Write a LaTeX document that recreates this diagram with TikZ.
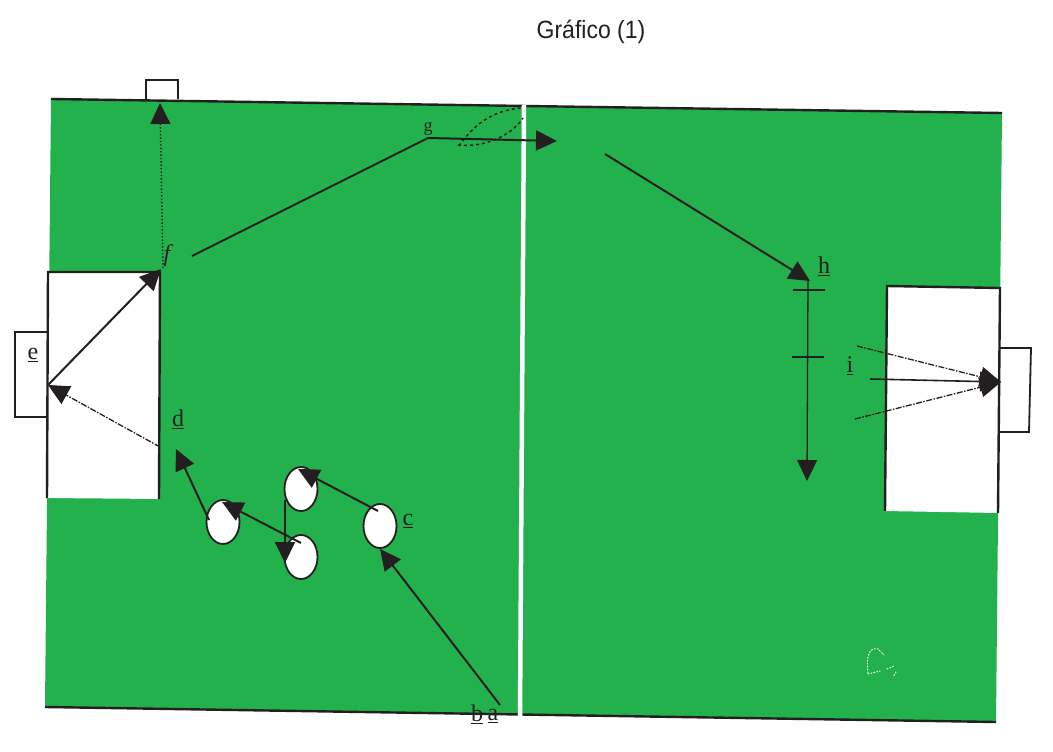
\documentclass[tikz,border=0pt]{standalone}
\usepackage{fontspec}
\setmainfont{Liberation Serif}
\newfontfamily\titlefont{Liberation Sans}
\usetikzlibrary{arrows.meta,shapes.geometric}
\definecolor{pitch}{RGB}{35,177,77}
\definecolor{ink}{RGB}{35,31,32}
\tikzset{
  player/.style={ellipse,draw=ink,fill=white,line width=1.8pt,minimum width=33pt,minimum height=44pt,inner sep=0pt},
  lab/.style={inner sep=0pt,text=ink,font=\fontsize{24}{26}\selectfont},
  wall/.style={draw=ink,line width=2.4pt},
  run/.style={draw=ink,line width=2pt},
  shot/.style={draw=ink,line width=1.3pt,dash pattern=on 6pt off 1.5pt on 1.5pt off 1.5pt}
}
\begin{document}
\begin{tikzpicture}[x=1pt,y=-1pt,>={Triangle[length=21pt,width=20pt]}]
      \useasboundingbox[fill=white] (0,0) rectangle (1053,752);
      % pitch and goals
      \fill[pitch] (51,99) -- (1002,113) -- (996,722) -- (45,707) -- cycle;
      \draw[wall] (51,99) -- (1002,113);
      \draw[wall] (45,707) -- (996,722);
      \fill[white] (48,272) -- (160,272) -- (159,499) -- (47,498) -- cycle;
      \fill[white] (887,286) -- (1000,288) -- (998,513) -- (885,511) -- cycle;
      \draw[wall] (159,499) -- (160,272) -- (48,272) -- (47,498);
      \draw[wall] (885,511) -- (887,286) -- (1000,288) -- (998,513);
      \draw[draw=ink,line width=1.8pt] (47,332) -- (15,332) -- (15,417) -- (47,417);
      \draw[draw=ink,line width=1.8pt] (1000,348) -- (1031,348) -- (1029,432) -- (998,432);
      \draw[draw=ink,line width=1.8pt,fill=white] (146,99) -- (146,80) -- (178,80) -- (178,99);
      \draw[white,line width=4.5pt] (524,105) -- (520,716);
      \draw[white,line width=1pt,dotted,line cap=round] (868,673) .. controls (865,652) and (872,647) .. (878,649) -- (884,655);
      \draw[white,line width=1pt,dotted,line cap=round] (868,674) -- (880,671) (887,669) -- (894,666) (896,672) -- (893,677);

      \node[font=\titlefont\fontsize{25}{27}\selectfont,text=ink,inner sep=0pt,xscale=.92] (title) at (591,32) {Gráfico (1)};

      % players
      \node[player] (p1) at (380,526) {};
      \node[player] (p2) at (301,489) {};
      \node[player] (p3) at (301,557) {};
      \node[player] (p4) at (223,522) {};

      % labels
      \node[lab] (a) at (493,716) {\underline{a}};
      \node[lab] (b) at (477,714) {\underline{b}};
      \node[lab] (c) at (408,521) {\underline{c}};
      \node[lab] (d) at (178,419) {\underline{d}};
      \node[lab] (e) at (33,355) {\underline{e}};
      \node[lab,font=\itshape\fontsize{24}{26}\selectfont] (f) at (167,256) {f};
      \node[lab,font=\fontsize{18}{20}\selectfont] (g) at (428,129) {g};
      \node[lab] (h) at (824,266) {\underline{h}};
      \node[lab] (i) at (850,366) {\underline{i}};

      % free ends of the lines
      \coordinate (start) at (500,705);
      \coordinate (c1) at (378,511);
      \coordinate (c2) at (298,469);
      \coordinate (c3) at (285,500);
      \coordinate (c4) at (285,563);
      \coordinate (c5) at (301,543);
      \coordinate (c6) at (222,502);
      \coordinate (c7) at (209,520);
      \coordinate (c8) at (176,449);
      \coordinate (c9) at (160,447);
      \coordinate (c10) at (48,385);
      \coordinate (c11) at (161,269);
      \coordinate (c12) at (163,268);
      \coordinate (c13) at (160,103);
      \coordinate (c14) at (192,256);
      \coordinate (c15) at (428,138);
      \coordinate (c16) at (557,141);
      \coordinate (c17) at (605,154);
      \coordinate (c18) at (810,281);
      \coordinate (c19) at (808,281);
      \coordinate (c20) at (807,481);
      \coordinate (c21) at (857,346);
      \coordinate (c22) at (870,379);
      \coordinate (c23) at (855,419);
      \coordinate (c24) at (1001,382);

      % runs and passes
      \draw[run,->] (start) -- (p1.south);
      \draw[run,->] (c1) -- (c2);
      \draw[run,->] (c3) -- (c4);
      \draw[run,->] (c5) -- (c6);
      \draw[run,->] (c7) -- (c8);
      \draw[shot,->] (c9) -- (c10);
      \draw[run,->] (c10) -- (c11);
      \draw[draw=ink,line width=1.4pt,dotted,->] (c12) -- (c13);
      \draw[run] (c14) -- (c15);
      \draw[run,->] (c15) -- (c16);
      \draw[run,->] (c17) -- (c18);
      \draw[draw=ink,line width=1.3pt,->] (c19) -- (c20);
      \draw[wall] (793,290) -- (825,290);
      \draw[wall] (792,357) -- (824,357);
      \draw[shot,->] (c21) -- (c24);
      \draw[draw=ink,line width=1.6pt,->] (c22) -- (c24);
      \draw[shot,->] (c23) -- (c24);
      \draw[draw=ink,line width=1.5pt,dashed] (459,146) .. controls (478,118) and (500,110) .. (521,108);
      \draw[draw=ink,line width=1.5pt,dashed] (458,145) .. controls (485,148) and (512,135) .. (523,118);
    \end{tikzpicture}
\end{document}
